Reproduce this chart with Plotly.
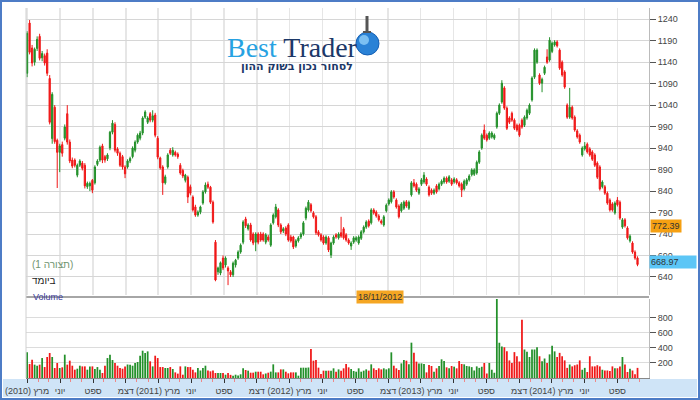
import pandas as pd
import plotly.graph_objects as go

# weekly candles, first week starts 2010-03-01
START = "2010-03-01"

OPEN = [
    1114, 1231, 1173, 1140, 1172, 1200, 1150, 1155, 1161, 1102,
    962, 1035, 958, 930, 948, 963, 1020, 954, 912, 912,
    877, 900, 905, 900, 850, 852, 865, 859, 902, 912,
    945, 920, 915, 940, 977, 995, 938, 928, 920, 896,
    896, 910, 920, 935, 954, 963, 975, 1012, 1000, 1020,
    1005, 1017, 963, 917, 896, 859, 896, 935, 924, 930,
    926, 900, 888, 865, 872, 850, 826, 803, 784, 791,
    812, 838, 856, 849, 814, 721, 652, 649, 684, 668,
    661, 652, 645, 668, 684, 698, 721, 775, 752, 761,
    740, 721, 740, 740, 740, 721, 733, 714, 766, 780,
    796, 761, 747, 754, 761, 733, 733, 712, 724, 733,
    740, 777, 796, 808, 789, 780, 745, 738, 733, 719,
    731, 691, 719, 738, 731, 743, 752, 738, 726, 712,
    721, 726, 719, 730, 745, 756, 770, 766, 796, 791,
    782, 770, 761, 794, 810, 815, 838, 819, 805, 794,
    800, 815, 800, 831, 859, 856, 835, 856, 861, 868,
    849, 842, 835, 852, 845, 856, 861, 870, 863, 866,
    861, 866, 859, 856, 845, 856, 866, 878, 879, 882,
    907, 940, 982, 970, 963, 966, 963, 989, 1021, 1047,
    1080, 1033, 1010, 1021, 1005, 993, 993, 1005, 993, 1010,
    1021, 1052, 1105, 1140, 1110, 1091, 1114, 1152, 1145, 1165,
    1180, 1187, 1168, 1140, 1117, 1040, 1012, 1035, 1012, 980,
    970, 924, 938, 949, 938, 931, 924, 905, 896, 850,
    850, 835, 819, 810, 789, 819, 814, 756, 773, 754,
    724, 719, 698, 684,
]
HIGH = [
    1212, 1238, 1180, 1174, 1200, 1206, 1166, 1160, 1170, 1110,
    1070, 1040, 962, 950, 955, 995, 1040, 960, 918, 916,
    904, 914, 910, 905, 862, 862, 868, 900, 914, 946,
    950, 924, 928, 980, 1005, 1000, 942, 932, 924, 900,
    914, 920, 944, 958, 974, 980, 1014, 1028, 1014, 1024,
    1028, 1022, 968, 920, 900, 878, 928, 940, 942, 934,
    930, 905, 892, 880, 876, 855, 830, 808, 795, 806,
    842, 860, 862, 852, 818, 726, 664, 676, 690, 688,
    665, 656, 676, 682, 702, 718, 772, 780, 765, 766,
    744, 744, 744, 745, 744, 742, 738, 765, 788, 810,
    800, 765, 756, 758, 765, 738, 736, 728, 735, 744,
    770, 804, 819, 812, 793, 784, 749, 742, 737, 737,
    735, 722, 737, 742, 744, 780, 756, 742, 730, 723,
    735, 735, 737, 749, 760, 772, 774, 800, 800, 795,
    786, 774, 784, 811, 823, 842, 842, 823, 809, 814,
    818, 819, 818, 863, 868, 860, 849, 870, 884, 872,
    853, 846, 846, 856, 860, 867, 874, 874, 877, 870,
    872, 870, 863, 860, 867, 870, 879, 893, 893, 911,
    935, 974, 995, 974, 979, 979, 974, 1025, 1044, 1098,
    1084, 1037, 1014, 1025, 1009, 997, 997, 1009, 1016, 1032,
    1044, 1107, 1172, 1172, 1114, 1104, 1132, 1170, 1198, 1188,
    1191, 1191, 1172, 1144, 1121, 1044, 1080, 1039, 1016, 984,
    974, 944, 954, 953, 942, 935, 928, 909, 900, 865,
    854, 839, 823, 814, 816, 826, 818, 777, 777, 758,
    739, 723, 702, 688,
]
LOW = [
    1105, 1158, 1130, 1132, 1166, 1144, 1142, 1132, 1108, 995,
    950, 950, 847, 884, 920, 958, 948, 905, 893, 895,
    872, 896, 888, 846, 845, 840, 835, 855, 898, 908,
    905, 906, 910, 935, 972, 930, 922, 896, 890, 870,
    892, 905, 916, 930, 950, 958, 970, 1008, 996, 1000,
    1000, 965, 914, 890, 831, 855, 892, 924, 920, 920,
    915, 878, 870, 860, 812, 830, 792, 780, 780, 786,
    808, 834, 845, 810, 764, 630, 645, 644, 656, 662,
    621, 640, 640, 662, 680, 694, 716, 754, 748, 722,
    714, 700, 716, 722, 722, 716, 722, 710, 762, 776,
    756, 740, 742, 735, 722, 720, 705, 708, 720, 728,
    736, 772, 792, 790, 776, 738, 734, 722, 715, 715,
    698, 684, 715, 729, 727, 731, 727, 722, 715, 703,
    717, 722, 715, 726, 741, 752, 755, 762, 785, 778,
    769, 762, 757, 790, 806, 811, 822, 799, 776, 790,
    796, 801, 796, 827, 848, 838, 831, 852, 857, 852,
    827, 831, 831, 834, 841, 852, 857, 857, 859, 852,
    857, 855, 848, 826, 841, 852, 862, 874, 875, 878,
    903, 936, 959, 955, 959, 962, 959, 985, 1017, 1043,
    1029, 982, 996, 1001, 982, 978, 966, 985, 989, 1006,
    1017, 1048, 1101, 1136, 1087, 1070, 1110, 1136, 1141, 1161,
    1176, 1174, 1122, 1106, 1078, 1008, 1008, 1006, 978, 962,
    950, 920, 934, 927, 920, 910, 896, 868, 841, 846,
    831, 808, 792, 792, 785, 804, 773, 752, 755, 727,
    720, 694, 680, 665,
]
CLOSE = [
    1207, 1163, 1138, 1170, 1193, 1149, 1160, 1138, 1114, 1000,
    1065, 955, 930, 945, 928, 989, 954, 910, 898, 900,
    900, 910, 893, 852, 858, 858, 842, 896, 910, 942,
    912, 912, 924, 977, 998, 935, 928, 900, 896, 880,
    910, 916, 940, 954, 970, 975, 1010, 1024, 1010, 1005,
    1015, 970, 919, 894, 859, 873, 924, 928, 935, 924,
    920, 882, 875, 877, 826, 835, 796, 784, 791, 803,
    838, 854, 849, 814, 768, 633, 661, 673, 661, 684,
    654, 645, 672, 679, 698, 714, 768, 759, 761, 726,
    719, 740, 721, 726, 726, 738, 726, 761, 784, 803,
    761, 745, 752, 740, 726, 724, 710, 724, 731, 740,
    766, 800, 814, 794, 780, 743, 738, 726, 719, 733,
    703, 719, 733, 733, 740, 735, 731, 726, 719, 719,
    731, 731, 733, 745, 756, 768, 759, 796, 789, 782,
    773, 766, 780, 807, 819, 838, 826, 803, 780, 810,
    814, 805, 814, 859, 852, 842, 845, 866, 877, 856,
    831, 835, 842, 838, 856, 863, 870, 861, 873, 856,
    868, 859, 852, 842, 863, 866, 875, 889, 889, 907,
    931, 970, 963, 959, 975, 975, 970, 1021, 1040, 1091,
    1033, 986, 1000, 1005, 986, 982, 970, 989, 1012, 1028,
    1040, 1103, 1168, 1168, 1091, 1100, 1128, 1140, 1191, 1184,
    1187, 1178, 1126, 1110, 1082, 1012, 1035, 1010, 982, 966,
    954, 940, 945, 931, 924, 914, 900, 872, 845, 861,
    835, 812, 796, 796, 812, 808, 777, 773, 759, 731,
    735, 698, 684, 669,
]
VOLUME = [
    342, 186, 244, 178, 164, 178, 266, 146, 280, 333,
    280, 133, 200, 133, 142, 311, 178, 231, 164, 111,
    124, 164, 155, 155, 111, 155, 155, 120, 146, 111,
    67, 164, 266, 311, 240, 200, 164, 133, 124, 155,
    180, 178, 164, 200, 213, 297, 364, 333, 355, 222,
    155, 297, 266, 146, 146, 133, 133, 146, 120, 75,
    58, 155, 44, 155, 146, 146, 111, 75, 133, 100,
    133, 164, 100, 89, 100, 67, 67, 67, 67, 44,
    67, 42, 31, 44, 35, 49, 129, 107, 98, 71,
    71, 84, 84, 84, 49, 60, 71, 85, 182, 75,
    75, 115, 115, 84, 62, 75, 75, 75, 31, 138,
    138, 138, 140, 386, 231, 240, 138, 53, 98, 98,
    98, 98, 129, 84, 115, 98, 129, 187, 142, 120,
    93, 84, 129, 84, 98, 115, 98, 182, 129, 107,
    129, 115, 129, 115, 129, 342, 164, 129, 107, 195,
    240, 231, 182, 471, 338, 218, 195, 195, 187, 75,
    173, 160, 84, 129, 160, 249, 226, 142, 129, 160,
    151, 129, 226, 187, 182, 160, 155, 145, 100, 155,
    135, 150, 200, 60, 200, 110, 70, 1070, 470, 420,
    410, 355, 235, 200, 345, 290, 220, 775, 380, 350,
    280, 380, 380, 410, 290, 225, 260, 200, 315, 430,
    355, 280, 335, 290, 235, 135, 180, 155, 170, 180,
    235, 110, 135, 80, 290, 155, 155, 170, 155, 110,
    100, 100, 95, 155, 130, 130, 155, 280, 180, 80,
    125, 100, 50, 135,
]

TICK_DATES = [
    "2010-03-01", "2010-06-01", "2010-09-01", "2010-12-01",
    "2011-03-01", "2011-06-01", "2011-09-01", "2011-12-01",
    "2012-03-01", "2012-06-01", "2012-09-01", "2012-12-01",
    "2013-03-01", "2013-06-01", "2013-09-01", "2013-12-01",
    "2014-03-01", "2014-06-01", "2014-09-01",
]
TICK_TEXT = [
    "(2010) מרץ", "יוני", "ספט", "דצמ",
    "(2011) מרץ", "יוני", "ספט", "דצמ",
    "(2012) מרץ", "יוני", "ספט", "דצמ",
    "(2013) מרץ", "יוני", "ספט", "דצמ",
    "(2014) מרץ", "יוני", "ספט",
]
PRICE_TICKS = [640, 690, 740, 790, 840, 890, 940, 990, 1040, 1090, 1140, 1190, 1240]
VOLUME_TICKS = [200, 400, 600, 800]

UP = "#23902a"
DOWN = "#f01818"

dates = pd.date_range(START, periods=len(CLOSE), freq="7D")
vol_colors = [UP if c >= o else DOWN for o, c in zip(OPEN, CLOSE)]

fig = go.Figure()
fig.add_trace(go.Candlestick(
    x=dates, open=OPEN, high=HIGH, low=LOW, close=CLOSE,
    increasing=dict(line=dict(color=UP, width=1), fillcolor=UP),
    decreasing=dict(line=dict(color=DOWN, width=1), fillcolor=DOWN),
    whiskerwidth=0, showlegend=False, xaxis="x", yaxis="y",
))
fig.add_trace(go.Bar(
    x=dates, y=VOLUME, marker=dict(color=vol_colors, line_width=0),
    showlegend=False, xaxis="x2", yaxis="y2",
))

AXFONT = dict(family="Liberation Sans, Arial, sans-serif", size=9, color="#444")
xcommon = dict(
    type="date", range=["2010-02-26", "2014-11-28"],
    tickmode="array", tickvals=TICK_DATES, ticktext=TICK_TEXT,
    rangeslider=dict(visible=False), fixedrange=True, automargin=False,
)

fig.update_layout(
    width=700, height=400,
    margin=dict(l=26, r=51, t=8, b=22, autoexpand=False),
    paper_bgcolor="white", plot_bgcolor="white",
    font=AXFONT, bargap=0.3, hovermode=False,
    xaxis=dict(
        **xcommon, domain=[0, 1], anchor="y", showticklabels=False,
        showgrid=True, gridcolor="#e6e6e6", gridwidth=1.5, ticks="",
    ),
    yaxis=dict(
        domain=[0.2243, 1], range=[598, 1266], side="right",
        tickvals=PRICE_TICKS, showgrid=True, gridcolor="#d6d6d6",
        ticks="outside", ticklen=6, tickcolor="#555", automargin=False,
        showline=True, linecolor="#bbb", tickfont=AXFONT, zeroline=False,
    ),
    xaxis2=dict(
        **xcommon, domain=[0, 1], anchor="y2", matches="x",
        showgrid=False, ticks="outside", ticklen=4, tickcolor="#333",
        tickfont=AXFONT, showline=True, linecolor="#888",
        minor=dict(ticks="outside", ticklen=3, tickcolor="#e88", dtick="M1",
                   tick0="2010-01-01", showgrid=False),
    ),
    yaxis2=dict(
        domain=[0, 0.2135], range=[0, 1053], side="right",
        tickvals=VOLUME_TICKS, showgrid=True, gridcolor="#dcdcdc",
        ticks="outside", ticklen=6, tickcolor="#555", automargin=False,
        showline=True, linecolor="#bbb", tickfont=AXFONT, zeroline=False,
    ),
)


def px_x(p):
    return (p - 26) / 623


def px_y(p):
    return (378 - p) / 370


shapes = [
    # bottom strip with x labels
    dict(type="rect", xref="paper", yref="paper", layer="below",
         x0=px_x(3), x1=px_x(697), y0=px_y(397), y1=px_y(379),
         fillcolor="#cfe4f7", line_width=0),
    # outer frame
    dict(type="rect", xref="paper", yref="paper",
         x0=px_x(1), x1=px_x(699), y0=px_y(399), y1=px_y(1),
         line=dict(color="#4d7cc6", width=2)),
    # separator between price and volume panes
    dict(type="line", xref="paper", yref="paper",
         x0=0, x1=1, y0=px_y(297), y1=px_y(297),
         line=dict(color="#a6a6a6", width=2)),
    # left border of the plot
    dict(type="line", xref="paper", yref="paper",
         x0=0, x1=0, y0=0, y1=1, line=dict(color="#d0d0d0", width=1)),
    # logo globe
    dict(type="circle", xref="paper", yref="paper",
         x0=px_x(356), x1=px_x(379), y0=px_y(55), y1=px_y(32),
         fillcolor="#2a82d6", line=dict(color="#1660b4", width=1)),
    dict(type="circle", xref="paper", yref="paper",
         x0=px_x(359), x1=px_x(369), y0=px_y(45), y1=px_y(35),
         fillcolor="#7cc0f2", line_width=0),
    dict(type="line", xref="paper", yref="paper",
         x0=px_x(367), x1=px_x(367), y0=px_y(32), y1=px_y(16),
         line=dict(color="#555", width=3)),
    dict(type="line", xref="paper", yref="paper",
         x0=px_x(363), x1=px_x(371), y0=px_y(32), y1=px_y(32),
         line=dict(color="#555", width=2)),
]
fig.update_layout(shapes=shapes)

ann = [
    dict(text="<span style='color:#27a2e2'>Best</span><span style='color:#1c3868'> Trader</span>",
         x=px_x(292), y=px_y(30), font=dict(family="Liberation Serif, serif", size=28)),
    dict(text="<b>לסחור נכון בשוק ההון</b>", x=px_x(297), y=px_y(58),
         font=dict(family="DejaVu Sans, sans-serif", size=11, color="#1c3868")),
    dict(text="(תצורה 1)", x=px_x(30), y=px_y(272), xanchor="left",
         font=dict(size=10, color="#6f946f")),
    dict(text="ביומד", x=px_x(30), y=px_y(288), xanchor="left",
         font=dict(size=10, color="#222")),
    dict(text="Volume", x=px_x(31), y=px_y(304), xanchor="left",
         font=dict(size=9, color="#3a3a9a")),
    dict(text="18/11/2012", x=px_x(380), y=px_y(304), bgcolor="#f5a623",
         borderpad=1, font=dict(size=9, color="#333")),
    dict(text="772.39", x=px_x(650), y=px_y(226), xanchor="left",
         bgcolor="#f5a012", borderpad=1, font=dict(size=9, color="#333")),
    dict(text="668.97", x=px_x(649), y=px_y(269), xanchor="left", align="left",
         width=44, bgcolor="#5cc6f6", borderpad=1, font=dict(size=9, color="#333")),
]
for a in ann:
    a.setdefault("xref", "paper")
    a.setdefault("yref", "paper")
    a.setdefault("showarrow", False)
fig.update_layout(annotations=ann)

# page body has a default 8px margin; drop it so the figure fills the window
fig.write_html(
    "out.html",
    config={"displayModeBar": False, "staticPlot": True},
    post_script="document.body.style.margin='0';",
)
